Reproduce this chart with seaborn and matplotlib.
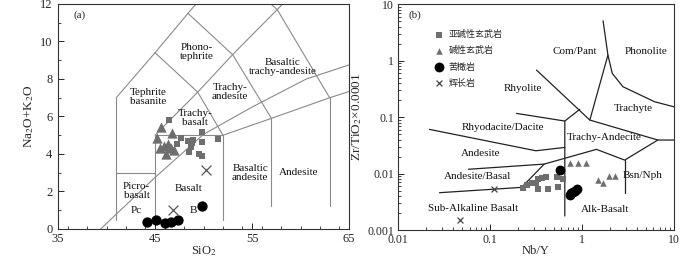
import numpy as np
import pandas as pd
import matplotlib
matplotlib.use("Agg")
import matplotlib.pyplot as plt
import matplotlib.ticker as mticker
import seaborn as sns

# ---- (a) TAS data ----
sub_sio2 = [46.4, 49.8, 47.7, 48.35, 48.9, 48.8, 49.8, 48.7, 48.55, 49.5, 49.8, 51.5, 47.3]
sub_alk = [5.8, 5.15, 4.87, 4.69, 4.74, 4.6, 4.65, 4.39, 4.12, 3.98, 3.89, 4.8, 4.55]
alk_sio2 = [45.6, 46.8, 45.25, 45.5, 46.1, 46.35, 46.6, 47.0, 45.9]
alk_alk = [5.45, 5.13, 4.85, 4.3, 4.0, 4.55, 4.3, 4.2, 4.45]
pic_sio2 = [44.2, 45.1, 46.0, 46.6, 47.4, 49.85]
pic_alk = [0.37, 0.5, 0.32, 0.37, 0.47, 1.25]
gab_sio2 = [46.9, 50.25]
gab_alk = [1.0, 3.15]

# TAS field boundaries (Le Bas et al.)
tas_lines = [
    [(41, 0.5), (41, 7)],
    [(41, 3), (45, 3)],
    [(45, 0.5), (45, 5), (52, 5), (52, 0.5)],
    [(57, 1.2), (57, 5.9)],
    [(63, 1.2), (63, 7)],
    [(41, 7), (45, 9.4), (48.4, 11.5), (52.5, 14)],
    [(45, 5), (49.4, 7.3), (53, 9.3), (57.6, 11.7), (61, 13.5)],
    [(52, 5), (57, 5.9), (63, 7), (69, 8)],
    [(45, 9.4), (49.4, 7.3), (52, 5)],
    [(48.4, 11.5), (53, 9.3), (57, 5.9)],
    [(52.5, 14), (57.6, 11.7), (63, 7)],
]
alk_divide = [(39.4, 0), (45, 2.75), (50, 5.05), (55, 6.5), (60.6, 8.0), (65, 8.75)]

tas_labels = [
    ("Phono-\ntephrite", 49.3, 9.45), ("Basaltic\ntrachy-andesite", 58.2, 8.65),
    ("Tephrite\nbasanite", 44.3, 7.05), ("Trachy-\nandesite", 52.75, 7.3),
    ("Trachy-\nbasalt", 49.15, 5.9), ("Basaltic\nandesite", 54.8, 3.0),
    ("Andesite", 59.8, 3.0), ("Picro-\nbasalt", 43.1, 2.05),
    ("Basalt", 48.45, 2.15), ("Pc", 43.1, 1.0), ("B", 48.95, 1.0),
]

# ---- (b) Winchester & Floyd data ----
sub_nby = [0.227, 0.25, 0.284, 0.316, 0.335, 0.365, 0.33, 0.43, 0.552, 0.538, 0.616, 0.41]
sub_zr = [0.0056, 0.0062, 0.0069, 0.0067, 0.0079, 0.0084, 0.0053, 0.0053, 0.0058, 0.0088, 0.008, 0.0088]
alk_nby = [0.74, 0.91, 1.1, 1.5, 1.7, 1.97, 2.27]
alk_zr = [0.0155, 0.0155, 0.0155, 0.0077, 0.0069, 0.009, 0.009]
pic_nby = [0.575, 0.74, 0.77, 0.8, 0.84, 0.88]
pic_zr = [0.0115, 0.0042, 0.0045, 0.0048, 0.005, 0.0054]
gab_nby = [0.112, 0.0474]
gab_zr = [0.0053, 0.0015]

wf_lines = [
    [(0.0283, 0.00458), (0.221, 0.00569), (0.389, 0.0147), (1.44, 0.0268), (2.92, 0.0173), (6.7, 0.0392), (10, 0.0392)],
    [(2.92, 0.0173), (2.92, 0.00458)],
    [(0.0583, 0.0119), (0.389, 0.0147)],
    [(0.022, 0.0605), (0.316, 0.0253), (0.652, 0.029)],
    [(0.195, 0.116), (0.652, 0.085)],
    [(0.652, 0.00177), (0.652, 0.085), (0.948, 0.137)],
    [(0.321, 0.679), (1.22, 0.0885), (6.7, 0.0392)],
    [(1.22, 0.0885), (1.92, 1.25), (1.70, 5.07)],
    [(1.92, 1.25), (2.14, 0.593), (2.80, 0.344), (6.17, 0.187), (10, 0.152)],
]

wf_labels = [
    ("Com/Pant", 0.84, 1.43), ("Phonolite", 5.0, 1.43), ("Rhyolite", 0.23, 0.32),
    ("Trachyte", 3.6, 0.143), ("Rhyodacite/Dacite", 0.138, 0.065),
    ("Trachy-Andecite", 1.77, 0.043), ("Andesite", 0.08, 0.0228),
    ("Andesite/Basal", 0.074, 0.0088), ("Bsn/Nph", 4.6, 0.0094),
    ("Sub-Alkaline Basalt", 0.066, 0.0024), ("Alk-Basalt", 1.77, 0.0023),
]

legend_names = ["亚碱性玄武岩", "碱性玄武岩", "苦橄岩", "辉长岩"]

sns.set_theme(style="ticks")
plt.rcParams["font.family"] = ["Liberation Serif", "Noto Sans CJK SC"]
plt.rcParams["mathtext.fontset"] = "stix"
plt.rcParams["axes.linewidth"] = 0.8
plt.rcParams["xtick.direction"] = "in"
plt.rcParams["ytick.direction"] = "in"

fig = plt.figure(figsize=(7, 2.57), dpi=100)
ax1 = fig.add_axes([0.0829, 0.109, 0.4157, 0.8755])
ax2 = fig.add_axes([0.5686, 0.105, 0.394, 0.879])

# ---------- panel (a) ----------
for seg in tas_lines + [alk_divide]:
    xs, ys = zip(*seg)
    ax1.plot(xs, ys, color="#8a8a8a", lw=0.8, zorder=1)

sns.scatterplot(x=sub_sio2, y=sub_alk, marker="s", color="#6e6e6e", s=20, linewidth=0, ax=ax1, zorder=3)
sns.scatterplot(x=alk_sio2, y=alk_alk, marker="^", color="#6e6e6e", s=55, linewidth=0, ax=ax1, zorder=3)
sns.scatterplot(x=pic_sio2, y=pic_alk, marker="o", color="black", s=55, linewidth=0, ax=ax1, zorder=3)
sns.scatterplot(x=gab_sio2, y=gab_alk, marker="x", color="#555555", s=50, linewidth=0.9, ax=ax1, zorder=3)

for txt, x, y in tas_labels:
    ax1.text(x, y, txt, ha="center", va="center", fontsize=8, linespacing=1.0, color="#111111")
ax1.text(36.6, 11.4, "(a)", fontsize=8, ha="left", va="center")

ax1.set_xlim(35, 65)
ax1.set_ylim(0, 12)
ax1.set_xticks([35, 45, 55, 65])
ax1.set_yticks(range(0, 13, 2))
ax1.xaxis.set_minor_locator(mticker.MultipleLocator(2))
ax1.yaxis.set_minor_locator(mticker.MultipleLocator(1))
ax1.tick_params(which="major", length=4, width=0.7, labelsize=9)
ax1.tick_params(axis="x", pad=3)
ax1.tick_params(axis="y", pad=4)
ax1.tick_params(which="minor", length=2, width=0.6)
ax1.set_xlabel("SiO$_2$", fontsize=9, labelpad=-1)
ax1.set_ylabel("Na$_2$O+K$_2$O", fontsize=9.5, labelpad=3)

# ---------- panel (b) ----------
for seg in wf_lines:
    xs, ys = zip(*seg)
    ax2.plot(xs, ys, color="#222222", lw=0.9, zorder=1)

sns.scatterplot(x=sub_nby, y=sub_zr, marker="s", color="#6e6e6e", s=20, linewidth=0, ax=ax2, zorder=3, label=legend_names[0])
sns.scatterplot(x=alk_nby, y=alk_zr, marker="^", color="#6e6e6e", s=22, linewidth=0, ax=ax2, zorder=3, label=legend_names[1])
sns.scatterplot(x=pic_nby, y=pic_zr, marker="o", color="black", s=50, linewidth=0, ax=ax2, zorder=3, label=legend_names[2])
sns.scatterplot(x=gab_nby, y=gab_zr, marker="x", color="#444444", s=18, linewidth=0.9, ax=ax2, zorder=3, label=legend_names[3])

for txt, x, y in wf_labels:
    ax2.text(x, y, txt, ha="center", va="center", fontsize=8, color="#111111")
ax2.text(0.0154, 6.4, "(b)", fontsize=8, ha="center", va="center")

ax2.set_xscale("log")
ax2.set_yscale("log")
ax2.set_xlim(0.01, 10)
ax2.set_ylim(0.001, 10)
fmt = mticker.FuncFormatter(lambda v, p: f"{v:g}")
ax2.xaxis.set_major_formatter(fmt)
ax2.yaxis.set_major_formatter(fmt)
ax2.tick_params(which="major", length=4, width=0.7, labelsize=8.5)
ax2.tick_params(axis="x", pad=3)
ax2.tick_params(axis="y", pad=3)
ax2.tick_params(which="minor", length=2, width=0.6)
ax2.set_xlabel("Nb/Y", fontsize=9, labelpad=-1)
ax2.set_ylabel("Zr/TiO$_2$×0.0001", fontsize=9.5, labelpad=2)

leg = ax2.legend(loc="upper left", bbox_to_anchor=(0.115, 0.905), frameon=False, fontsize=6.5,
                 borderpad=0, handlelength=1.0, handletextpad=0.6, labelspacing=0.8)

for ax in (ax1, ax2):
    for sp in ax.spines.values():
        sp.set_visible(True)
        sp.set_color("#333333")

fig.savefig("out.png", dpi=100)
